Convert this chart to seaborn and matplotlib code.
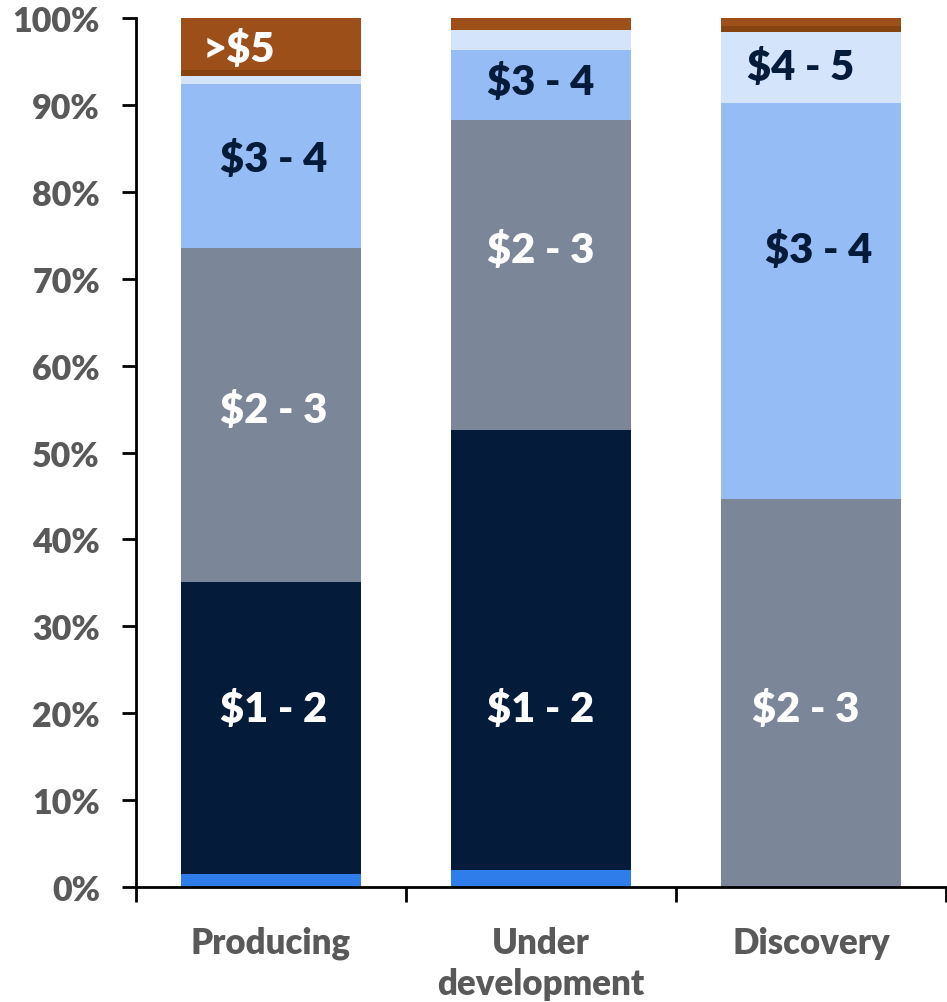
import numpy as np
import pandas as pd
import matplotlib
matplotlib.use("Agg")
import matplotlib.pyplot as plt
import seaborn as sns
from matplotlib.ticker import FixedLocator, PercentFormatter

# ---- data (percent of each category) ----
categories = ["Producing", "Under\ndevelopment", "Discovery"]
layer_names = ["<$1", "$1 - 2", "$2 - 3", "$3 - 4", "$4 - 5", "$5 - 6", ">$5"]
lt1 = [1.5, 2.0, 0.0]
b12 = [33.6, 50.6, 0.0]
b23 = [38.4, 35.7, 44.6]
b34 = [18.9, 8.0, 45.6]
b45 = [0.9, 2.3, 8.2]
b56 = [0.7, 0.0, 0.7]
gt5 = [6.0, 1.4, 0.9]
layers = [lt1, b12, b23, b34, b45, b56, gt5]
colors = ["#2E7DEA", "#051B3A", "#7B8799", "#95BCF5", "#D4E4FB", "#86420F", "#9C4F19"]

# segment labels: (category index, x offset, y value, text, colour)
label_text = [">$5", "$3 - 4", "$2 - 3", "$1 - 2",
              "$3 - 4", "$2 - 3", "$1 - 2",
              "$4 - 5", "$3 - 4", "$2 - 3"]
label_cat = [0, 0, 0, 0, 1, 1, 1, 2, 2, 2]
label_dx = [-0.12, 0.01, 0.01, 0.01, 0.0, 0.0, 0.0, -0.04, 0.03, -0.02]
label_y = [96.5, 83.8, 55.0, 20.5, 92.7, 73.4, 20.5, 94.4, 73.4, 20.5]
label_col = ["white", "#051B3A", "white", "white",
             "#051B3A", "white", "white",
             "#051B3A", "#051B3A", "white"]

sns.set_theme(style="white")
plt.rcParams["font.family"] = ["Lato", "DejaVu Sans"]

fig = plt.figure(figsize=(9.47, 10.03), dpi=100)
ax = fig.add_axes([0.1436, 0.1147, 0.8554, 0.8663])

bottom = np.zeros(len(categories))
for name, vals, col in zip(layer_names, layers, colors):
    df = pd.DataFrame({"cat": categories, "val": vals})
    sns.barplot(data=df, x="cat", y="val", color=col, bottom=bottom,
                width=0.667, errorbar=None, ax=ax, saturation=1,
                linewidth=0, order=categories)
    bottom = bottom + np.array(vals)

for t, c, dx, y, col in zip(label_text, label_cat, label_dx, label_y, label_col):
    ax.text(c + dx, y, t, ha="center", va="center", color=col,
            fontsize=30, fontweight="heavy")

ax.set_xlim(-0.5, 2.5)
ax.set_ylim(0, 100)
ax.yaxis.set_major_locator(FixedLocator(np.arange(0, 101, 10)))
ax.yaxis.set_major_formatter(PercentFormatter(decimals=0))
ax.set_xlabel("")
ax.set_ylabel("")

for s in ["top", "right"]:
    ax.spines[s].set_visible(False)
for s in ["left", "bottom"]:
    ax.spines[s].set_color("black")
    ax.spines[s].set_linewidth(2)

ax.tick_params(axis="y", which="major", direction="out", length=10, width=2,
               color="black", left=True, labelsize=24.5, labelcolor="#595959", pad=16)
for lab in ax.get_yticklabels():
    lab.set_fontweight("heavy")

# x: category labels without ticks, boundary ticks as minor
ax.set_xticks(range(len(categories)))
ax.set_xticklabels(categories, fontsize=25, fontweight="heavy", color="#595959",
                   linespacing=1.3)
ax.tick_params(axis="x", which="major", length=0, pad=28)
ax.xaxis.set_minor_locator(FixedLocator([-0.5, 0.5, 1.5, 2.5]))
ax.tick_params(axis="x", which="minor", direction="out", length=11, width=2,
               color="black", bottom=True)

fig.savefig("out.png", dpi=100)
